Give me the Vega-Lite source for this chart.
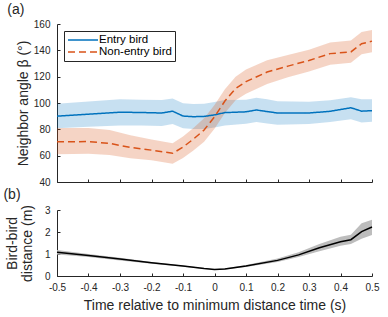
{
  "$schema": "https://vega.github.io/schema/vega-lite/v6.json",
  "padding": {"left": 3, "top": 3, "right": 8, "bottom": 4},
  "background": "white",
  "config": {
    "font": "Liberation Sans",
    "view": {"stroke": null},
    "axis": {
      "grid": false,
      "domainColor": "#262626",
      "tickColor": "#262626",
      "labelColor": "#262626",
      "titleColor": "#262626",
      "labelFontSize": 10,
      "titleFontSize": 14,
      "titleFontWeight": "normal",
      "tickSize": -3,
      "labelOverlap": false
    },
    "axisY": {"labelPadding": 10},
    "axisX": {"labelPadding": 9},
    "title": {"fontSize": 14, "fontWeight": "normal", "color": "#262626", "anchor": "start", "frame": "bounds"}
  },
  "datasets": {
    "angle": [
      {"series": "Entry bird", "t": -0.5, "m": 90.0, "lo": 80.8, "hi": 99.5},
      {"series": "Entry bird", "t": -0.4, "m": 91.5, "lo": 82.0, "hi": 101.2},
      {"series": "Entry bird", "t": -0.3, "m": 93.0, "lo": 83.0, "hi": 102.8},
      {"series": "Entry bird", "t": -0.233, "m": 92.8, "lo": 83.0, "hi": 102.5},
      {"series": "Entry bird", "t": -0.167, "m": 92.4, "lo": 82.5, "hi": 102.3},
      {"series": "Entry bird", "t": -0.133, "m": 93.8, "lo": 84.0, "hi": 103.5},
      {"series": "Entry bird", "t": -0.1, "m": 90.1, "lo": 80.8, "hi": 99.8},
      {"series": "Entry bird", "t": -0.067, "m": 89.6, "lo": 80.3, "hi": 99.3},
      {"series": "Entry bird", "t": -0.033, "m": 89.8, "lo": 80.3, "hi": 99.5},
      {"series": "Entry bird", "t": 0.0, "m": 91.0, "lo": 81.3, "hi": 100.7},
      {"series": "Entry bird", "t": 0.033, "m": 92.7, "lo": 83.0, "hi": 102.2},
      {"series": "Entry bird", "t": 0.1, "m": 93.3, "lo": 84.2, "hi": 102.5},
      {"series": "Entry bird", "t": 0.133, "m": 94.7, "lo": 85.5, "hi": 104.0},
      {"series": "Entry bird", "t": 0.167, "m": 93.5, "lo": 84.5, "hi": 102.8},
      {"series": "Entry bird", "t": 0.2, "m": 92.4, "lo": 83.5, "hi": 101.3},
      {"series": "Entry bird", "t": 0.3, "m": 92.4, "lo": 84.0, "hi": 101.0},
      {"series": "Entry bird", "t": 0.367, "m": 93.7, "lo": 85.5, "hi": 102.0},
      {"series": "Entry bird", "t": 0.433, "m": 96.4, "lo": 87.6, "hi": 104.3},
      {"series": "Entry bird", "t": 0.467, "m": 93.8, "lo": 85.1, "hi": 102.8},
      {"series": "Entry bird", "t": 0.5, "m": 94.2, "lo": 85.8, "hi": 102.8},
      {"series": "Non-entry bird", "t": -0.5, "m": 70.5, "lo": 61.0, "hi": 81.0},
      {"series": "Non-entry bird", "t": -0.4, "m": 70.7, "lo": 61.5, "hi": 81.0},
      {"series": "Non-entry bird", "t": -0.333, "m": 69.3, "lo": 60.5, "hi": 79.5},
      {"series": "Non-entry bird", "t": -0.267, "m": 66.3, "lo": 58.0, "hi": 75.5},
      {"series": "Non-entry bird", "t": -0.2, "m": 64.2, "lo": 56.5, "hi": 72.3},
      {"series": "Non-entry bird", "t": -0.133, "m": 61.8, "lo": 53.8, "hi": 69.5},
      {"series": "Non-entry bird", "t": -0.1, "m": 66.5, "lo": 58.3, "hi": 74.5},
      {"series": "Non-entry bird", "t": -0.067, "m": 72.6, "lo": 64.0, "hi": 81.0},
      {"series": "Non-entry bird", "t": -0.033, "m": 79.5, "lo": 70.5, "hi": 88.5},
      {"series": "Non-entry bird", "t": 0.0, "m": 89.5, "lo": 80.5, "hi": 98.5},
      {"series": "Non-entry bird", "t": 0.033, "m": 101.5, "lo": 92.5, "hi": 110.5},
      {"series": "Non-entry bird", "t": 0.067, "m": 111.0, "lo": 102.0, "hi": 120.0},
      {"series": "Non-entry bird", "t": 0.1, "m": 116.3, "lo": 107.0, "hi": 125.5},
      {"series": "Non-entry bird", "t": 0.167, "m": 123.5, "lo": 114.5, "hi": 132.5},
      {"series": "Non-entry bird", "t": 0.233, "m": 128.0, "lo": 119.5, "hi": 136.5},
      {"series": "Non-entry bird", "t": 0.3, "m": 132.3, "lo": 124.0, "hi": 140.5},
      {"series": "Non-entry bird", "t": 0.367, "m": 137.5, "lo": 129.0, "hi": 146.0},
      {"series": "Non-entry bird", "t": 0.433, "m": 138.8, "lo": 130.5, "hi": 147.5},
      {"series": "Non-entry bird", "t": 0.467, "m": 145.0, "lo": 137.0, "hi": 154.0},
      {"series": "Non-entry bird", "t": 0.5, "m": 147.0, "lo": 138.5, "hi": 155.5}
    ],
    "dist": [
      {"t": -0.5, "m": 1.08, "lo": 0.98, "hi": 1.18},
      {"t": -0.4, "m": 0.93, "lo": 0.86, "hi": 1.0},
      {"t": -0.3, "m": 0.77, "lo": 0.71, "hi": 0.83},
      {"t": -0.2, "m": 0.6, "lo": 0.56, "hi": 0.64},
      {"t": -0.1, "m": 0.45, "lo": 0.42, "hi": 0.48},
      {"t": -0.033, "m": 0.34, "lo": 0.32, "hi": 0.36},
      {"t": 0.0, "m": 0.3, "lo": 0.29, "hi": 0.31},
      {"t": 0.033, "m": 0.32, "lo": 0.3, "hi": 0.35},
      {"t": 0.1, "m": 0.45, "lo": 0.41, "hi": 0.5},
      {"t": 0.2, "m": 0.71, "lo": 0.64, "hi": 0.8},
      {"t": 0.267, "m": 0.96, "lo": 0.86, "hi": 1.08},
      {"t": 0.333, "m": 1.28, "lo": 1.12, "hi": 1.45},
      {"t": 0.4, "m": 1.56, "lo": 1.38, "hi": 1.78},
      {"t": 0.433, "m": 1.65, "lo": 1.45, "hi": 1.88},
      {"t": 0.467, "m": 2.02, "lo": 1.69, "hi": 2.4},
      {"t": 0.5, "m": 2.23, "lo": 1.86, "hi": 2.56}
    ]
  },
  "vconcat": [
    {
      "width": 315,
      "height": 158,
      "title": {"text": "(a)", "dx": -9, "offset": 2},
      "data": {"name": "angle"},
      "encoding": {
        "x": {"field": "t", "type": "quantitative",
              "scale": {"domain": [-0.5, 0.5], "nice": false, "zero": false},
              "axis": {"values": [-0.5, -0.4, -0.3, -0.2, -0.1, 0, 0.1, 0.2, 0.3, 0.4, 0.5], "labels": false, "title": null}},
        "y": {"type": "quantitative", "scale": {"domain": [40, 160], "nice": false},
              "axis": {"values": [40, 60, 80, 100, 120, 140, 160], "labelOverlap": false, "title": "Neighbor angle β (°)", "titlePadding": 3}}
      },
      "layer": [
        {
          "transform": [{"filter": "datum.series == 'Entry bird'"}],
          "mark": {"type": "area", "color": "#0072BD", "opacity": 0.22},
          "encoding": {
            "y": {"field": "lo"},
            "y2": {"field": "hi"}
          }
        },
        {
          "transform": [{"filter": "datum.series == 'Non-entry bird'"}],
          "mark": {"type": "area", "color": "#D95319", "opacity": 0.25},
          "encoding": {
            "y": {"field": "lo"},
            "y2": {"field": "hi"}
          }
        },
        {
          "mark": {"type": "line", "strokeWidth": 1.5},
          "encoding": {
            "y": {"field": "m"},
            "color": {"field": "series", "type": "nominal",
                       "scale": {"domain": ["Entry bird", "Non-entry bird"], "range": ["#0072BD", "#D95319"]},
                       "legend": {"title": null, "orient": "top-left", "offset": 7, "strokeColor": "#262626", "fillColor": "white",
                                  "padding": 3, "symbolType": "M-3,0H3", "symbolSize": 100, "symbolOffset": 10, "symbolStrokeWidth": 1.5,
                                  "labelFontSize": 11.5, "labelColor": "#000000", "rowPadding": 0, "labelOffset": 10}},
            "strokeDash": {"field": "series", "type": "nominal",
                           "scale": {"domain": ["Entry bird", "Non-entry bird"], "range": [[1, 0], [7, 4]]},
                           "legend": {"title": null, "orient": "top-left", "offset": 7, "strokeColor": "#262626", "fillColor": "white",
                                  "padding": 3, "symbolType": "M-3,0H3", "symbolSize": 100, "symbolOffset": 10, "symbolStrokeWidth": 1.5,
                                  "labelFontSize": 11.5, "labelColor": "#000000", "rowPadding": 0, "labelOffset": 10}}
          }
        }
      ]
    },
    {
      "width": 315,
      "height": 66,
      "title": {"text": "(b)", "dx": -2, "offset": 2},
      "data": {"name": "dist"},
      "encoding": {
        "x": {"field": "t", "type": "quantitative",
              "scale": {"domain": [-0.5, 0.5], "nice": false, "zero": false},
              "axis": {"values": [-0.5, -0.4, -0.3, -0.2, -0.1, 0, 0.1, 0.2, 0.3, 0.4, 0.5],
                       "labelExpr": "datum.value == 0 ? '0' : (datum.value < 0 ? '-' + format(-datum.value, '.1f') : format(datum.value, '.1f'))",
                       "labelFlush": false, "labelOverlap": false,
                       "title": "Time relative to minimum distance time (s)", "titlePadding": 6}},
        "y": {"type": "quantitative", "scale": {"domain": [0, 3], "nice": false},
              "axis": {"values": [0, 1, 2, 3], "labelOverlap": false, "title": ["Bird-bird", "distance (m)"], "titlePadding": 10, "titleLineHeight": 15}}
      },
      "layer": [
        {
          "mark": {"type": "area", "color": "#BDBDBD"},
          "encoding": {
            "y": {"field": "lo"},
            "y2": {"field": "hi"}
          }
        },
        {
          "mark": {"type": "line", "color": "#000000", "strokeWidth": 1.5},
          "encoding": {
            "y": {"field": "m"}
          }
        }
      ]
    }
  ],
  "spacing": 1
}
